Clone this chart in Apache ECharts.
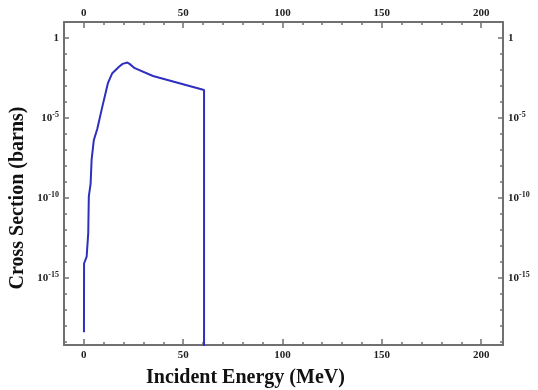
<!DOCTYPE html>
<html>
<head>
<meta charset="utf-8">
<script src="https://cdn.jsdelivr.net/npm/echarts@6.0.0/dist/echarts.min.js"></script>
<style>
  html, body { margin: 0; padding: 0; background: #fff; }
  #chart { width: 538px; height: 390px; }
</style>
</head>
<body>
<div id="chart"></div>
<script>
// 数据：入射能量 (MeV) 与截面 (barns)
const energy = [0.05, 0.1, 1.4, 2.2, 2.5, 3.4, 3.9, 5.0, 6.8, 9.3, 12.1, 14.3, 17.7, 19.5, 21.9, 23.0, 25.6, 34.8, 44.9, 60.5, 60.5];
const crossSection = [4e-19, 7.9e-15, 2.1e-14, 6.3e-13, 1.26e-10, 7.9e-10, 2.5e-8, 4e-7, 2.2e-6, 5.1e-5, 1.5e-3, 6.3e-3, 1.6e-2, 2.4e-2, 2.9e-2, 2.4e-2, 1.3e-2, 4.2e-3, 1.9e-3, 5.6e-4, 1e-25];

// 刻度
const xLabelTicks = [0, 50, 100, 150, 200];
const xMinorTicks = [0, 10, 20, 30, 40, 50, 60, 70, 80, 90, 100, 110, 120, 130, 140, 150, 160, 170, 180, 190, 200];
const yLabelTicks = [0, -5, -10, -15];   // log10(barns)
const yMinorTicks = [1, 0, -1, -2, -3, -4, -5, -6, -7, -8, -9, -10, -11, -12, -13, -14, -15, -16, -17, -18, -19];

const chart = echarts.init(document.getElementById('chart'));

const fontFam = '"Liberation Serif", "DejaVu Serif", serif';
const lineColor = '#707070';

const seriesData = energy.map((e, i) => [e, Math.log10(crossSection[i])]);

function yFmt(v) {
    const n = Math.round(v);
    if (n === 0) return '{b|1}';
    return '{b|10}{s|' + n + '}';
}
const yRich = {
    b: { fontFamily: fontFam, fontWeight: 'bold', fontSize: 11, color: '#222' },
    s: { fontFamily: fontFam, fontWeight: 'bold', fontSize: 8, color: '#222', padding: [0, 0, 6, 0] }
};

function xAxisDef(pos) {
    return {
        type: 'value', position: pos, min: -10, max: 211,
        axisLine: { show: true, onZero: false, lineStyle: { color: lineColor, width: 2 } },
        axisTick: { show: true, inside: true, length: 6, customValues: xLabelTicks, lineStyle: { color: lineColor, width: 1.5 } },
        axisLabel: {
            show: true, customValues: xLabelTicks, margin: pos === 'top' ? 3 : 5,
            fontFamily: fontFam, fontWeight: 'bold', fontSize: 11, color: '#222'
        },
        splitLine: { show: false }
    };
}
function xMinorDef(pos) {
    return {
        type: 'value', position: pos, min: -10, max: 211,
        axisLine: { show: false, onZero: false },
        axisTick: { show: true, inside: true, length: 3, customValues: xMinorTicks, lineStyle: { color: lineColor, width: 1.5 } },
        axisLabel: { show: false },
        splitLine: { show: false }
    };
}
function yAxisDef(pos) {
    return {
        type: 'value', position: pos, min: -19.2, max: 1,
        axisLine: { show: true, onZero: false, lineStyle: { color: lineColor, width: 2 } },
        axisTick: { show: true, inside: true, length: 5, customValues: yLabelTicks, lineStyle: { color: lineColor, width: 1.5 } },
        axisLabel: { show: true, customValues: yLabelTicks, margin: 5, formatter: yFmt, rich: yRich },
        splitLine: { show: false }
    };
}
function yMinorDef(pos) {
    return {
        type: 'value', position: pos, min: -19.2, max: 1,
        axisLine: { show: false, onZero: false },
        axisTick: { show: true, inside: true, length: 3, customValues: yMinorTicks, lineStyle: { color: lineColor, width: 1.5 } },
        axisLabel: { show: false },
        splitLine: { show: false }
    };
}

const option = {
    backgroundColor: '#fff',
    animation: false,
    grid: { left: 64, right: 35, top: 22, bottom: 45 },
    xAxis: [xAxisDef('bottom'), xAxisDef('top'), xMinorDef('bottom'), xMinorDef('top')],
    yAxis: [yAxisDef('left'), yAxisDef('right'), yMinorDef('left'), yMinorDef('right')],
    graphic: [
        {
            type: 'text', left: 146, top: 368,
            style: { text: 'Incident Energy (MeV)', fontFamily: fontFam, fontWeight: 'bold', fontSize: 20, fill: '#111' }
        },
        {
            type: 'text', x: 18, y: 198, rotation: Math.PI / 2,
            style: {
                text: 'Cross Section (barns)', fontFamily: fontFam, fontWeight: 'bold', fontSize: 20, fill: '#111',
                align: 'center', verticalAlign: 'middle'
            }
        }
    ],
    series: [
        {
            type: 'line',
            xAxisIndex: 0,
            yAxisIndex: 0,
            data: seriesData,
            showSymbol: false,
            clip: true,
            lineStyle: { color: '#2f2fbf', width: 2 }
        }
    ]
};

chart.setOption(option);
</script>
</body>
</html>
